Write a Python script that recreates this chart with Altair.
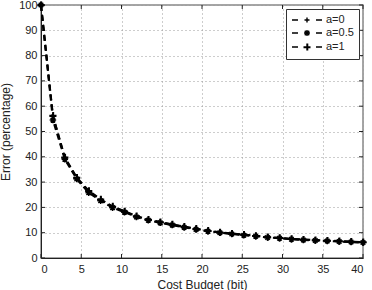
import altair as alt
import pandas as pd

series = ["a=0", "a=0.5", "a=1"]
budget = [0, 1.48, 2.96, 4.44, 5.93, 7.41, 8.89, 10.37, 11.85, 13.33, 14.81, 16.30, 17.78, 19.26,
          20.74, 22.22, 23.70, 25.19, 26.67, 28.15, 29.63, 31.11, 32.59, 34.07, 35.56, 37.04, 38.52, 40.0]
err_a0 = [100, 56.0, 39.5, 31.6, 26.3, 23.0, 20.2, 18.4, 16.4, 15.1, 14.1, 13.2, 12.3, 11.5,
          10.7, 10.1, 9.6, 9.2, 8.7, 8.2, 7.9, 7.5, 7.2, 7.0, 6.8, 6.6, 6.4, 6.2]
err_a05 = [100, 54.5, 39.0, 31.2, 25.8, 22.6, 19.9, 18.1, 16.2, 14.9, 13.9, 13.0, 12.1, 11.3,
           10.6, 10.0, 9.5, 9.0, 8.6, 8.1, 7.8, 7.4, 7.1, 6.9, 6.7, 6.5, 6.3, 6.1]
err_a1 = [100, 56.3, 39.8, 31.8, 26.6, 23.2, 20.4, 18.5, 16.6, 15.2, 14.2, 13.3, 12.4, 11.6,
          10.8, 10.2, 9.7, 9.3, 8.8, 8.3, 8.0, 7.6, 7.3, 7.1, 6.9, 6.7, 6.5, 6.3]
x_ticks = [0, 5, 10, 15, 20, 25, 30, 35, 40]
y_ticks = [0, 10, 20, 30, 40, 50, 60, 70, 80, 90, 100]

rows = []
for name, vals in zip(series, [err_a0, err_a05, err_a1]):
    for b, e in zip(budget, vals):
        rows.append({"budget": b, "error": e, "series": name})
df = pd.DataFrame(rows)
xt = pd.DataFrame({"budget": x_ticks})
yt = pd.DataFrame({"error": y_ticks})

W, H = 322, 253
FONT = "Liberation Sans"

xs = alt.Scale(domain=[0, 40], nice=False, zero=False)
ys = alt.Scale(domain=[0, 100], nice=False)
x_axis = alt.Axis(values=x_ticks, title="Cost Budget (bit)", grid=True, gridDash=[1, 3],
                  gridColor="#9a9a9a", gridWidth=1, tickSize=0, labelPadding=5,
                  domainColor="#222", labelFontSize=11, titleFontSize=12,
                  titleFontWeight="normal", titlePadding=5)
y_axis = alt.Axis(values=y_ticks, title="Error (percentage)", grid=True, gridDash=[1, 3],
                  gridColor="#9a9a9a", gridWidth=1, tickSize=0, labelPadding=4,
                  domainColor="#222", labelFontSize=11, titleFontSize=12,
                  titleFontWeight="normal", titlePadding=6)

X = alt.X("budget:Q", scale=xs, axis=x_axis)
Y = alt.Y("error:Q", scale=ys, axis=y_axis)

marker_paths = [
    "M-1,0H1M0,-1V1",
    "M-1,0H1M0,-1V1M-0.7,-0.7L0.7,0.7M-0.7,0.7L0.7,-0.7",
    "M-1.1,0H1.1M0,-1.1V1.1M-1.1,0.15H1.1M0.15,-1.1V1.1",
]
legend_paths = [
    "M-3,0H-1.8M1.8,0H3M-0.5,0H0.5M0,-0.5V0.5",
    "M-3,0H-1.8M1.8,0H3M-0.6,0H0.6M0,-0.6V0.6M-0.45,-0.45L0.45,0.45M-0.45,0.45L0.45,-0.45",
    "M-3,0H-1.8M1.8,0H3M-0.7,0H0.7M0,-0.7V0.7M-0.7,0.12H0.7M0.12,-0.7V0.7",
]

lines = alt.Chart(df).mark_line(color="black", strokeDash=[6, 4], strokeWidth=2).encode(
    x=X, y=Y, detail="series:N")
points = alt.Chart(df).mark_point(filled=False, color="black", strokeWidth=1.5, size=42,
                                  opacity=1).encode(
    x=X, y=Y,
    shape=alt.Shape("series:N", scale=alt.Scale(domain=series, range=marker_paths), legend=None))
legend_layer = alt.Chart(df).transform_filter("false").mark_point(
    filled=False, color="black", strokeWidth=1.4, size=100, opacity=1).encode(
    x=X, y=Y,
    shape=alt.Shape("series:N", scale=alt.Scale(domain=series, range=legend_paths),
                    legend=alt.Legend(title=None, orient="top-right", offset=4,
                                      padding=5, rowPadding=1, symbolOffset=10,
                                      labelOffset=13, labelFontSize=11,
                                      strokeColor="#333", fillColor="white",
                                      symbolSize=100, symbolStrokeWidth=1.4,
                                      symbolOpacity=1)))

bt = alt.Chart(xt).mark_rule(color="#222").encode(x=X, y=alt.value(H), y2=alt.value(H - 4))
tt = alt.Chart(xt).mark_rule(color="#222").encode(x=X, y=alt.value(0), y2=alt.value(4))
lt = alt.Chart(yt).mark_rule(color="#222").encode(y=Y, x=alt.value(0), x2=alt.value(4))
rt = alt.Chart(yt).mark_rule(color="#222").encode(y=Y, x=alt.value(W - 4), x2=alt.value(W))

chart = alt.layer(bt, tt, lt, rt, lines, points, legend_layer).resolve_scale(
    shape="independent").properties(
    width=W, height=H, autosize=alt.AutoSizeParams(type="none"),
    padding={"left": 41, "top": 5, "right": 9, "bottom": 32},
).configure(font=FONT).configure_view(stroke="#888", strokeWidth=1.5).configure_axis(
    labelColor="#222", titleColor="#222", labelFont=FONT, titleFont=FONT
).configure_legend(labelFont=FONT, labelColor="#222")

chart.save("out.html", embed_options={"renderer": "svg", "actions": False})
